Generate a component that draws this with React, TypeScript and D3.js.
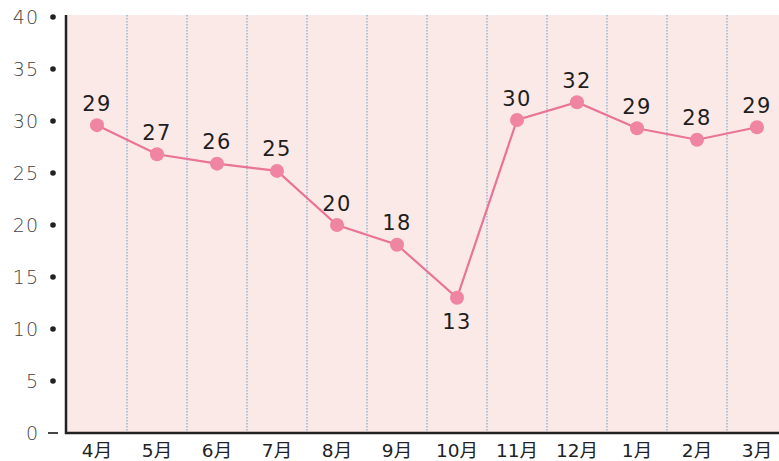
import React, { useRef, useEffect } from 'react';
import * as d3 from 'd3';

const months = ['4月', '5月', '6月', '7月', '8月', '9月', '10月', '11月', '12月', '1月', '2月', '3月'];
const values = [29.6, 26.8, 25.9, 25.2, 20.0, 18.1, 13.0, 30.1, 31.8, 29.3, 28.2, 29.4];
const labels = ['29', '27', '26', '25', '20', '18', '13', '30', '32', '29', '28', '29'];
const yTicks = [0, 5, 10, 15, 20, 25, 30, 35, 40];

const W = 779;
const H = 461;

const App: React.FC = () => {
  const ref = useRef<SVGSVGElement | null>(null);

  useEffect(() => {
    const svg = d3.select(ref.current);
    svg.selectAll('*').remove();

    const left = 67;
    const bandW = 60;
    const top = 17;
    const bottom = 433;

    const x = d3.scaleBand<string>()
      .domain(months)
      .range([left, left + bandW * months.length]);
    const y = d3.scaleLinear().domain([0, 40]).range([bottom, top]);

    const font = '"DejaVu Sans", "Noto Sans CJK JP", sans-serif';

    // background
    svg.append('rect')
      .attr('x', left).attr('y', top - 2)
      .attr('width', W - left).attr('height', bottom - top + 2)
      .attr('fill', '#fbe9e7');

    // dotted separators
    months.slice(1).forEach((m) => {
      const xx = x(m)!;
      svg.append('line')
        .attr('x1', xx).attr('x2', xx)
        .attr('y1', top - 2).attr('y2', bottom)
        .attr('stroke', '#86aed3')
        .attr('stroke-width', 1.3)
        .attr('stroke-dasharray', '1.5 1.5');
    });

    // axes
    svg.append('line')
      .attr('x1', left - 1).attr('x2', left - 1)
      .attr('y1', top - 2).attr('y2', bottom + 1)
      .attr('stroke', '#222').attr('stroke-width', 2.5);
    svg.append('line')
      .attr('x1', left - 2).attr('x2', W)
      .attr('y1', bottom).attr('y2', bottom)
      .attr('stroke', '#222').attr('stroke-width', 2.5);

    // y ticks
    yTicks.forEach((t) => {
      if (t === 0) {
        svg.append('line')
          .attr('x1', 48).attr('x2', 58)
          .attr('y1', y(t)).attr('y2', y(t))
          .attr('stroke', '#333').attr('stroke-width', 1.8);
      } else {
        svg.append('circle')
          .attr('cx', 53).attr('cy', y(t)).attr('r', 2.8)
          .attr('fill', '#222');
      }
      svg.append('text')
        .attr('x', 39).attr('y', y(t))
        .attr('dy', '0.36em')
        .attr('text-anchor', 'end')
        .style('font-family', font)
        .style('font-size', '19px')
        .style('font-weight', '300')
        .style('letter-spacing', '1px')
        .style('fill', '#444')
        .text(String(t));
    });

    // x labels
    months.forEach((m) => {
      svg.append('text')
        .attr('x', x(m)! + bandW / 2)
        .attr('y', 450)
        .attr('dy', '0.36em')
        .attr('text-anchor', 'middle')
        .style('font-family', font)
        .style('font-size', '18.5px')
        .style('fill', '#222')
        .text(m);
    });

    const cx = (i: number) => x(months[i])! + bandW / 2;

    const line = d3.line<number>()
      .x((_, i) => cx(i))
      .y((d) => y(d));

    svg.append('path')
      .attr('d', line(values)!)
      .attr('fill', 'none')
      .attr('stroke', '#ea7495')
      .attr('stroke-width', 2.2);

    const minV = d3.min(values)!;
    values.forEach((v, i) => {
      svg.append('circle')
        .attr('cx', cx(i)).attr('cy', y(v)).attr('r', 7)
        .attr('fill', '#ef85a2');
      const below = v === minV;
      svg.append('text')
        .attr('x', cx(i))
        .attr('y', below ? y(v) + 24 : y(v) - 22)
        .attr('dy', '0.36em')
        .attr('text-anchor', 'middle')
        .style('font-family', font)
        .style('font-size', '21px')
        .style('letter-spacing', '1.5px')
        .style('fill', '#1e1e1e')
        .text(labels[i]);
    });
  }, []);

  return (
    <svg
      ref={ref}
      width={W}
      height={H}
      style={{ position: 'absolute', left: 0, top: 0, background: '#fff' }}
    />
  );
};

export default App;
